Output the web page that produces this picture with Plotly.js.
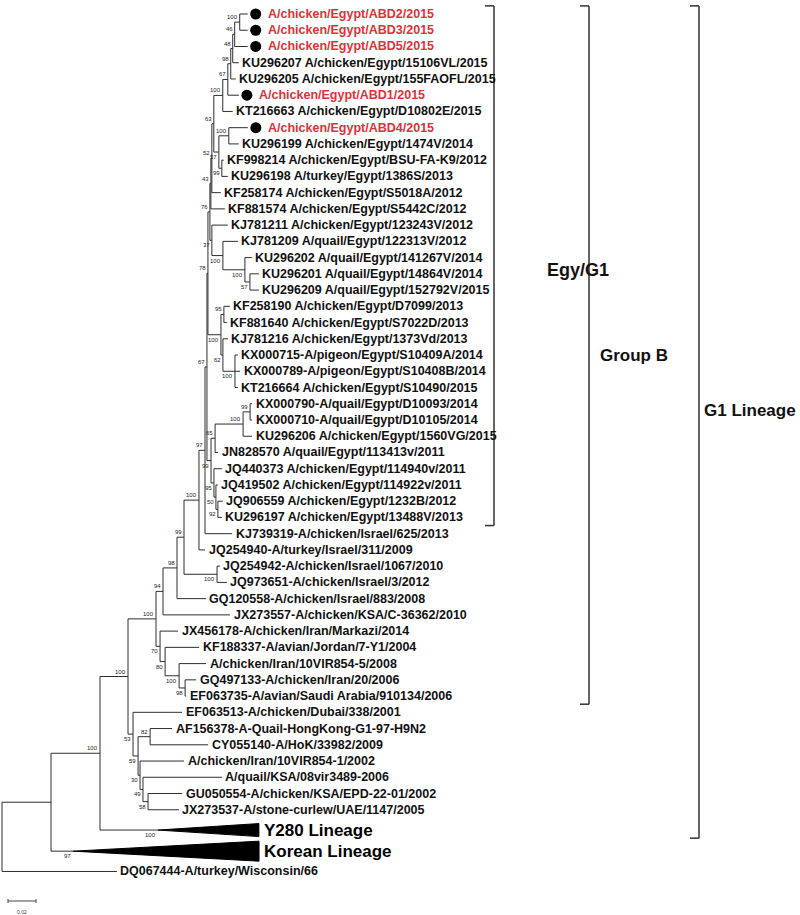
<!DOCTYPE html>
<html><head><meta charset="utf-8">
<script src="https://cdn.plot.ly/plotly-3.0.1.min.js"></script>
<style>html,body{margin:0;padding:0;background:#fff}#chart{width:800px;height:915px}</style>
</head><body><div id="chart"></div>
<script>
// ---------------- DATA ----------------
const taxa = [
 "A/chicken/Egypt/ABD2/2015","A/chicken/Egypt/ABD3/2015","A/chicken/Egypt/ABD5/2015",
 "KU296207 A/chicken/Egypt/15106VL/2015","KU296205 A/chicken/Egypt/155FAOFL/2015",
 "A/chicken/Egypt/ABD1/2015","KT216663 A/chicken/Egypt/D10802E/2015",
 "A/chicken/Egypt/ABD4/2015","KU296199 A/chicken/Egypt/1474V/2014",
 "KF998214 A/chicken/Egypt/BSU-FA-K9/2012","KU296198 A/turkey/Egypt/1386S/2013",
 "KF258174 A/chicken/Egypt/S5018A/2012","KF881574 A/chicken/Egypt/S5442C/2012",
 "KJ781211 A/chicken/Egypt/123243V/2012","KJ781209 A/quail/Egypt/122313V/2012",
 "KU296202 A/quail/Egypt/141267V/2014","KU296201 A/quail/Egypt/14864V/2014",
 "KU296209 A/quail/Egypt/152792V/2015","KF258190 A/chicken/Egypt/D7099/2013",
 "KF881640 A/chicken/Egypt/S7022D/2013","KJ781216 A/chicken/Egypt/1373Vd/2013",
 "KX000715-A/pigeon/Egypt/S10409A/2014","KX000789-A/pigeon/Egypt/S10408B/2014",
 "KT216664 A/chicken/Egypt/S10490/2015","KX000790-A/quail/Egypt/D10093/2014",
 "KX000710-A/quail/Egypt/D10105/2014","KU296206 A/chicken/Egypt/1560VG/2015",
 "JN828570 A/quail/Egypt/113413v/2011","JQ440373 A/chicken/Egypt/114940v/2011",
 "JQ419502 A/chicken/Egypt/114922v/2011","JQ906559 A/chicken/Egypt/1232B/2012",
 "KU296197 A/chicken/Egypt/13488V/2013","KJ739319-A/chicken/Israel/625/2013",
 "JQ254940-A/turkey/Israel/311/2009","JQ254942-A/chicken/Israel/1067/2010",
 "JQ973651-A/chicken/Israel/3/2012","GQ120558-A/chicken/Israel/883/2008",
 "JX273557-A/chicken/KSA/C-36362/2010","JX456178-A/chicken/Iran/Markazi/2014",
 "KF188337-A/avian/Jordan/7-Y1/2004","A/chicken/Iran/10VIR854-5/2008",
 "GQ497133-A/chicken/Iran/20/2006","EF063735-A/avian/Saudi Arabia/910134/2006",
 "EF063513-A/chicken/Dubai/338/2001","AF156378-A-Quail-HongKong-G1-97-H9N2",
 "CY055140-A/HoK/33982/2009","A/chicken/Iran/10VIR854-1/2002",
 "A/quail/KSA/08vir3489-2006","GU050554-A/chicken/KSA/EPD-22-01/2002",
 "JX273537-A/stone-curlew/UAE/1147/2005","Y280 Lineage","Korean Lineage",
 "DQ067444-A/turkey/Wisconsin/66"
];
const studyIsolates = [0,1,2,5,7];          // isolates of this study (red, dot)
const collapsedTaxa = [50,51];              // collapsed lineages
const collapsedSupport = [100,97];
const collapsedDepth = [0.0721,0.1329];     // subst./site from clade root to deepest tip
const collapsedSpan = [0.8,1.23];           // triangle height in rows

// Newick sub-clades (leaf tokens are indexes into taxa; internal labels = bootstrap)
const nwk_f  = "((((((0:0.0057,1:0.0057)100:0.0036,2:0.0093)46:0.0014,3:0.0043)48:0.0014,4:0.0036)98:0.0021,5:0.0079)67:0.0036,6:0.0071)100";
const nwk_57 = "((7:0.0136,8:0.0071)100:0.0071,(9:0.0014,10:0.0043)99:0.0021)57";
const nwk_43 = `(((${nwk_f}:0.0064,${nwk_57}:0.0036)63:0.0014,11:0.0064)52:0.0007,12:0.0100)43`;
const nwk_o  = "(14:0.0107,(15:0.0050,(16:0.0064,17:0.0064)57:0.0036)100:0.0157)100";
const nwk_76 = `(${nwk_43}:0.0007,(13:0.0114,${nwk_o}:0.0079)37:0.0014)76`;
const nwk_kf = "((18:0.0043,19:0.0021)95:0.0021,(20:0.0036,(21:0.0021,22:0.0036,23:0.0021)100:0.0086)62:0.0014)100";
const nwk_78 = `(${nwk_76}:0.0014,${nwk_kf}:0.0093)78`;
const nwk_99 = "((((24:0.0014,25:0.0014)99:0.0050,26:0.0064)100:0.0200,27:0.0021)65:0.0029,(28:0.0057,(29:0.0014,(30:0.0036,31:0.0029)92:0.0014)50:0.0014)95:0.0021)99";
const nwk_egy = `(${nwk_78}:0.0007,${nwk_99}:0.0029)67`;
const nwk_grpB = `(((((${nwk_egy}:0.0014,32:0.0193)97:0.0043,33:0.0043)100:0.0107,(34:0.0021,35:0.0071)100:0.0236)99:0.0050,36:0.0207)98:0.0100,37:0.0479)94`;
const nwk_iran = "(38:0.0129,(39:0.0243,(40:0.0193,(41:0.0079,42:0.0007)98:0.0043)100:0.0100)80:0.0036)70";
const nwk_E  = "(43:0.0350,((44:0.0157,45:0.0414)82:0.0086,(46:0.0314,(47:0.0564,(48:0.0243,49:0.0221)58:0.0036)49:0.0021)30:0.0014)59:0.0036)53";
const treeNewick = `(((((${nwk_grpB}:0.0050,${nwk_iran}:0.0029)100:0.0200,${nwk_E}:0.0036)100:0.0200,50:0.0414)100:0.0350,51:0.0157):0.0350,52:0.0821);`;

const groupNames = ["Egy/G1","Group B","G1 Lineage"];
const groupFirst = [0,0,0];
const groupLast  = [31,42,50];
const scaleBarLength = 0.02;
const scaleBarLabel = "0.02";

// ---------------- STYLE ----------------
const W = 800, H = 915;
const PX_PER_UNIT = 1400, ROOT_PX = 2, ROW_PX = 16.24, TOP_PX = 14;
const rowGap = {50:1.25, 51:1.3, 52:1.25};
const FONT = "Liberation Sans, Arial, sans-serif";
const LINE = "#2e2e2e", RED = "#de3138";
const bracketPx = [494, 589, 699];
const groupLabelPx = [545, 598, 798], groupLabelAnchor = ["left","left","right"];
const groupLabelDy = [4, 0, -12], groupLabelSize = [18, 17, 17];
const scaleBarPx = 8, scaleBarYpx = 901;

// ---------------- BUILD ----------------
function parseNewick(s){
  let i = 0;
  function node(){
    const n = {children:[], label:"", len:0};
    if (s[i] === "("){
      i++; n.children.push(node());
      while (s[i] === ","){ i++; n.children.push(node()); }
      i++;
    }
    let tok = "";
    while (i < s.length && !":,);".includes(s[i])) tok += s[i++];
    n.label = tok;
    if (s[i] === ":"){ i++; let num = ""; while (i < s.length && !",);".includes(s[i])) num += s[i++]; n.len = parseFloat(num); }
    return n;
  }
  return node();
}
const root = parseNewick(treeNewick.replace(/\s+/g, ""));
const leafRow = []; let rr = 0;
taxa.forEach((t,k) => { if (k > 0) rr += (rowGap[k] || 1); leafRow[k] = rr; });

const nodes = [];
(function place(n, px, parent){
  n.x = px + (n.len || 0); n.parent = parent; nodes.push(n);
  if (n.children.length){
    n.children.forEach(c => place(c, n.x, n));
    n.y = (n.children[0].y + n.children[n.children.length-1].y) / 2;
  } else { n.leaf = +n.label; n.y = leafRow[n.leaf]; }
})(root, 0, null);

const lx = [], ly = [];
nodes.forEach(n => {
  if (!n.children.length) return;
  const f = n.children[0], l = n.children[n.children.length-1];
  lx.push(n.x, n.x, null); ly.push(f.y, l.y, null);
  n.children.forEach(c => { lx.push(n.x, c.x, null); ly.push(c.y, c.y, null); });
});

const traces = [{type:"scatter", mode:"lines", x:lx, y:ly, line:{color:LINE, width:1}, hoverinfo:"skip"}];
collapsedTaxa.forEach((k,j) => {
  const n = nodes.find(m => m.leaf === k);
  const bx = n.x + collapsedDepth[j];
  traces.push({type:"scatter", mode:"lines", fill:"toself", fillcolor:"#000",
    x:[n.x, bx, bx, n.x], y:[n.y, n.y - collapsedSpan[j]/2, n.y + collapsedSpan[j]/2, n.y],
    line:{color:"#000", width:1}, hoverinfo:"skip"});
});
const dots = nodes.filter(n => !n.children.length && studyIsolates.includes(n.leaf));
traces.push({type:"scatter", mode:"markers", x:dots.map(n => n.x + 8/PX_PER_UNIT), y:dots.map(n => n.y),
  marker:{color:"#000", size:11, symbol:"circle"}, hoverinfo:"skip"});

const ann = [];
nodes.filter(n => !n.children.length).forEach(n => {
  const k = n.leaf, j = collapsedTaxa.indexOf(k), st = studyIsolates.includes(k);
  if (j >= 0){
    ann.push({x:n.x + collapsedDepth[j], y:n.y, text:"<b>"+taxa[k]+"</b>", xanchor:"left", yanchor:"middle",
      xshift:3, showarrow:false, font:{family:FONT, size:17, color:"#000"}});
  } else {
    ann.push({x:n.x, y:n.y, text:"<b>"+taxa[k]+"</b>", xanchor:"left", yanchor:"middle",
      xshift: st ? 18 : 1.5, showarrow:false, font:{family:FONT, size:12.5, color: st ? RED : "#111"}});
  }
});
nodes.forEach(n => {
  if (!n.parent) return;
  let lab = n.children.length ? n.label : (collapsedTaxa.includes(n.leaf) ? String(collapsedSupport[collapsedTaxa.indexOf(n.leaf)]) : "");
  if (!lab) return;
  const first = n.parent.children[0] === n;
  ann.push({x:n.x, y:n.y, text:lab, xanchor:"right", yanchor: first ? "bottom" : "top",
    showarrow:false, font:{family:FONT, size:6, color:"#222"}});
});

const shapes = [];
groupNames.forEach((g,i) => {
  const y0 = leafRow[groupFirst[i]] - 0.5, y1 = leafRow[groupLast[i]] + 0.5;
  const xp = bracketPx[i] / W, xt = (bracketPx[i] - 9) / W;
  const ln = {color:"#333", width:1.5};
  shapes.push({type:"line", xref:"paper", yref:"y", x0:xp, x1:xp, y0:y0, y1:y1, line:ln});
  shapes.push({type:"line", xref:"paper", yref:"y", x0:xt, x1:xp, y0:y0, y1:y0, line:ln});
  shapes.push({type:"line", xref:"paper", yref:"y", x0:xt, x1:xp, y0:y1, y1:y1, line:ln});
  ann.push({xref:"paper", yref:"y", x:groupLabelPx[i]/W, y:(y0+y1)/2 + groupLabelDy[i]/ROW_PX, text:"<b>"+g+"</b>",
    xanchor:groupLabelAnchor[i], yanchor:"middle", showarrow:false,
    font:{family:FONT, size:groupLabelSize[i], color:"#111"}});
});
// scale bar
const sx0 = (scaleBarPx - ROOT_PX) / PX_PER_UNIT, sx1 = sx0 + scaleBarLength, sy = 1 - scaleBarYpx / H;
shapes.push({type:"line", xref:"x", yref:"paper", x0:sx0, x1:sx1, y0:sy, y1:sy, line:{color:"#444", width:1}});
shapes.push({type:"line", xref:"x", yref:"paper", x0:sx0, x1:sx0, y0:sy-2/H, y1:sy+2/H, line:{color:"#444", width:1}});
shapes.push({type:"line", xref:"x", yref:"paper", x0:sx1, x1:sx1, y0:sy-2/H, y1:sy+2/H, line:{color:"#444", width:1}});
ann.push({xref:"x", yref:"paper", x:(sx0+sx1)/2, y:sy - 6/H, text:scaleBarLabel, xanchor:"center", yanchor:"top",
  showarrow:false, font:{family:FONT, size:5, color:"#444"}});

const layout = {
  width:W, height:H, margin:{l:0, r:0, t:0, b:0}, showlegend:false,
  paper_bgcolor:"#fff", plot_bgcolor:"#fff",
  xaxis:{visible:false, range:[-ROOT_PX/PX_PER_UNIT, (W-ROOT_PX)/PX_PER_UNIT], fixedrange:true},
  yaxis:{visible:false, range:[(H-TOP_PX)/ROW_PX, -TOP_PX/ROW_PX], fixedrange:true},
  annotations:ann, shapes:shapes
};
Plotly.newPlot("chart", traces, layout, {staticPlot:true, displayModeBar:false});
</script></body></html>
